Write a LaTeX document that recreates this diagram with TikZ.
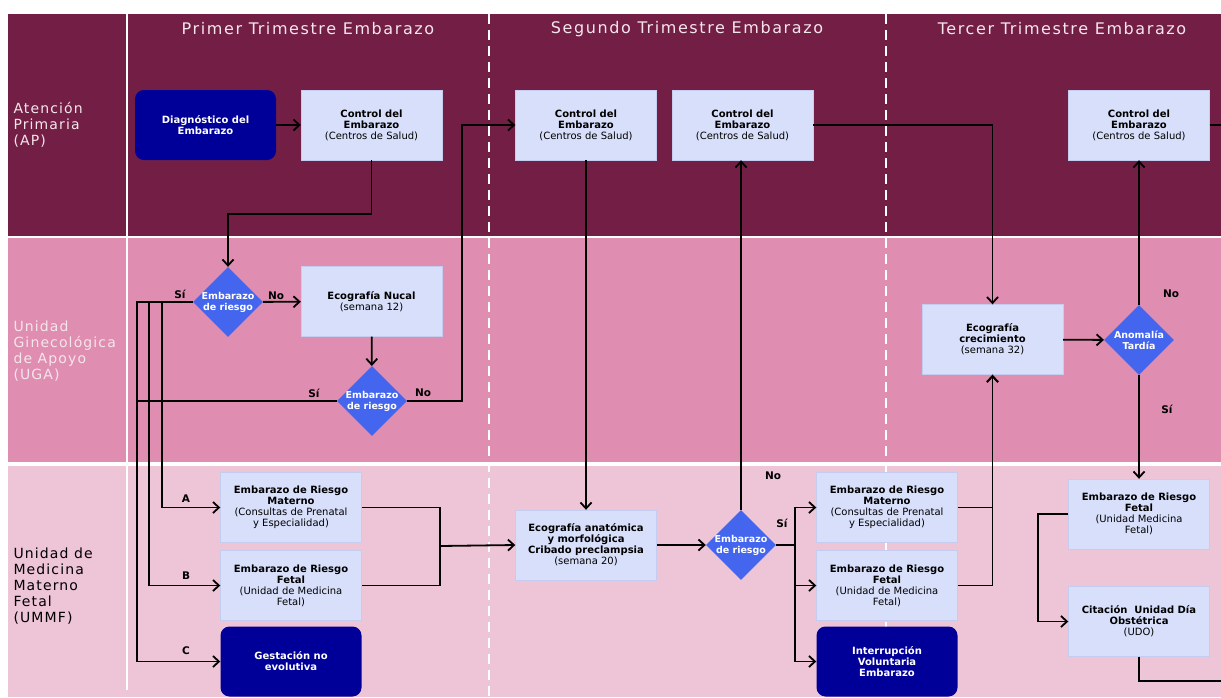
\documentclass[tikz,border=0pt]{standalone}
\usepackage{fontspec}
\setmainfont{DejaVu Sans}
\newfontfamily\ancha{DejaVu Sans}[LetterSpace=10]
\newfontfamily\anchados{DejaVu Sans}[LetterSpace=8]
\usetikzlibrary{shapes.geometric,arrows.meta}
\definecolor{apcol}{RGB}{115,31,69}
\definecolor{ugacol}{RGB}{223,141,176}
\definecolor{ummfcol}{RGB}{238,197,214}
\definecolor{boxfill}{RGB}{216,223,250}
\definecolor{boxline}{RGB}{196,204,240}
\definecolor{azuloscuro}{RGB}{0,0,153}
\definecolor{diacol}{RGB}{68,102,238}
\definecolor{rotulo}{RGB}{245,230,236}
\tikzset{
  proc/.style={draw=boxline,fill=boxfill,minimum width=141pt,minimum height=70pt,inner sep=1pt,align=center,font=\fontsize{10}{11}\selectfont},
  term/.style={proc,draw=none,fill=azuloscuro,rounded corners=9pt,text=white,font=\fontsize{10}{11}\selectfont\bfseries},
  decis/.style={diamond,fill=diacol,minimum width=70pt,minimum height=70pt,inner sep=-6pt,align=center,text=white,font=\fontsize{9.5}{11}\selectfont\bfseries},
  linea/.style={line width=1.8pt},
  flujo/.style={linea,-{Straight Barb[length=6pt,width=11pt]}},
  etiq/.style={font=\fontsize{10.5}{12}\selectfont\bfseries},
  carril/.style={anchor=west,align=left,font=\anchados\fontsize{14}{16}\selectfont},
  titulo/.style={text=rotulo,font=\ancha\fontsize{16}{18}\selectfont},
}
\begin{document}
\begin{tikzpicture}[x=1pt,y=-1pt]
    \useasboundingbox (0,0) rectangle (1221,697);
    %三条泳道
    \fill[apcol] (8,14) rectangle (1221,236);
    \fill[ugacol] (8,238) rectangle (1221,462);
    \fill[ummfcol] (8,466) rectangle (1221,697);
    \draw[white,line width=1.6pt] (127,14)--(127,690);
    \draw[white,line width=1.3pt,dash pattern=on 10pt off 6pt] (489,14)--(489,697);
    \draw[white,line width=1.3pt,dash pattern=on 10pt off 6pt] (886,14)--(886,697);
    \node[titulo] (t1) at (308,29) {Primer Trimestre Embarazo};
    \node[titulo] (t2) at (687,29) {Segundo Trimestre Embarazo};
    \node[titulo] (t3) at (1062,29) {Tercer Trimestre Embarazo};
    \node[carril,text=rotulo] (ap) at (10,125) {Atención\\Primaria\\(AP)};
    \node[carril,text=rotulo] (uga) at (10,351) {Unidad\\Ginecológica\\de Apoyo\\(UGA)};
    \node[carril,text=black] (ummf) at (10,586) {Unidad de\\Medicina\\Materno\\Fetal\\(UMMF)};

    \node[term] (diag) at (205.5,125) {Diagnóstico del\\Embarazo};
    \node[proc] (ctl1) at (371.5,125) {\textbf{Control del}\\\textbf{Embarazo}\\(Centros de Salud)};
    \node[proc] (ctl2) at (586,125) {\textbf{Control del}\\\textbf{Embarazo}\\(Centros de Salud)};
    \node[proc] (ctl3) at (742.5,125) {\textbf{Control del}\\\textbf{Embarazo}\\(Centros de Salud)};
    \node[proc] (ctl4) at (1139,125) {\textbf{Control del}\\\textbf{Embarazo}\\(Centros de Salud)};
    \node[decis] (dia1) at (228,302) {Embarazo\\de riesgo};
    \node[proc] (eco1) at (371.5,301.5) {\textbf{Ecografía Nucal}\\(semana 12)};
    \node[decis] (dia2) at (372,401) {Embarazo\\de riesgo};
    \node[proc] (rm1) at (291,507.5) {\textbf{Embarazo de Riesgo}\\\textbf{Materno}\\(Consultas de Prenatal\\y Especialidad)};
    \node[proc] (rf1) at (291,585.5) {\textbf{Embarazo de Riesgo}\\\textbf{Fetal}\\(Unidad de Medicina\\Fetal)};
    \node[term] (gne) at (291,661.5) {Gestación no\\evolutiva};
    \node[proc] (ecoa) at (586,545) {\textbf{Ecografía anatómica}\\\textbf{y morfológica}\\\textbf{Cribado preclampsia}\\(semana 20)};
    \node[decis] (dia3) at (741,545) {Embarazo\\de riesgo};
    \node[proc] (rm2) at (887,507.5) {\textbf{Embarazo de Riesgo}\\\textbf{Materno}\\(Consultas de Prenatal\\y Especialidad)};
    \node[proc] (rf2) at (887,585.5) {\textbf{Embarazo de Riesgo}\\\textbf{Fetal}\\(Unidad de Medicina\\Fetal)};
    \node[term] (ive) at (887,661.5) {Interrupción\\Voluntaria\\Embarazo};
    \node[proc] (ecoc) at (992.5,339.5) {\textbf{Ecografía}\\\textbf{crecimiento}\\(semana 32)};
    \node[decis] (dia4) at (1139,340) {Anomalía\\Tardía};
    \node[proc] (rf3) at (1139,514) {\textbf{Embarazo de Riesgo}\\\textbf{Fetal}\\(Unidad Medicina\\Fetal)};
    \node[proc] (udo) at (1139,621.5) {\textbf{Citación\ \ Unidad Día}\\\textbf{Obstétrica}\\(UDO)};
    \coordinate (j1) at (440,546);
    \coordinate (j2) at (795,545);
    \coordinate (salida1) at (1221,125);
    \coordinate (salida2) at (1221,681);

    \draw[flujo] (diag)--(ctl1);
    \draw[flujo] (ctl1.south)--++(0,54)-|(dia1.north);
    \draw[flujo] (dia1)--(eco1);
    \draw[flujo] (dia1.west)--++(-31,0)|-(rm1.west);
    \draw[flujo] (dia1.west)--++(-44,0)|-(rf1.west);
    \draw[flujo] (dia1.west)--++(-56,0)|-(gne.west);
    \draw[flujo] (eco1)--(dia2);
    \draw[linea] (dia2.west)--++(-200,0);
    \draw[flujo] (dia2.east)--++(55,0)|-(ctl2.west);
    \draw[flujo] (ctl2)--(ecoa);
    \draw[linea] (rm1.east)-|(j1)|-(rf1.east);
    \draw[flujo] (j1)--(ecoa.west);
    \draw[flujo] (ecoa)--(dia3);
    \draw[flujo] (dia3.north)--(dia3.north|-ctl3.south);
    \draw[linea] (dia3.east)--(j2);
    \draw[flujo] (j2)|-(rm2.west);
    \draw[flujo] (j2)|-(rf2.west);
    \draw[flujo] (j2)|-(ive.west);
    \draw[flujo] (ctl3.east)-|(ecoc.north);
    \draw[flujo] (rm2.east)-|(ecoc.south);
    \draw[flujo] (rf2.east)-|(ecoc.south);
    \draw[flujo] (ecoc)--(dia4);
    \draw[flujo] (dia4)--(ctl4);
    \draw[flujo] (dia4)--(rf3);
    \draw[flujo] (rf3.west)--++(-30,0)|-(udo.west);
    \draw[linea] (udo.south)|-(salida2);
    \draw[linea] (ctl4.east)--(salida1);

    \node[etiq] (si1) at (180,294) {Sí};
    \node[etiq] (no1) at (276,296) {No};
    \node[etiq] (si2) at (314,393) {Sí};
    \node[etiq] (no2) at (423,393) {No};
    \node[etiq] (la) at (186,499) {A};
    \node[etiq] (lb) at (186,576) {B};
    \node[etiq] (lc) at (186,651) {C};
    \node[etiq] (no3) at (773,476) {No};
    \node[etiq] (si3) at (782,523) {Sí};
    \node[etiq] (no4) at (1171,294) {No};
    \node[etiq] (si4) at (1167,409) {Sí};
\end{tikzpicture}
\end{document}
